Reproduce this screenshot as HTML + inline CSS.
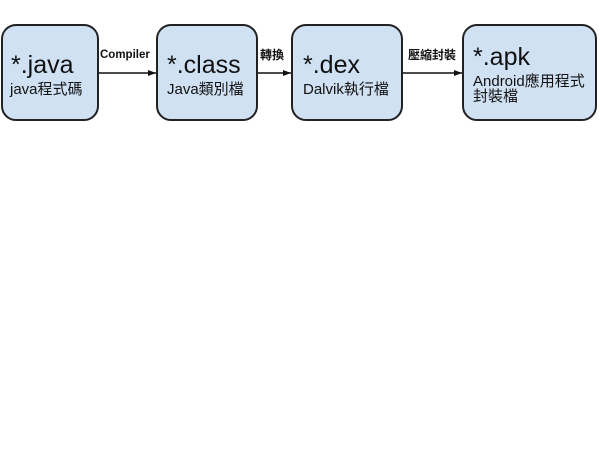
<!DOCTYPE html>
<html>
<head>
<meta charset="utf-8">
<style>
html,body{margin:0;padding:0;background:#fff;}
svg{display:block;}
.big{font-family:"Liberation Sans","Noto Sans CJK TC",sans-serif;font-size:25px;fill:#111;}
.sub{font-family:"Liberation Sans","Noto Sans CJK TC",sans-serif;font-size:15px;fill:#111;}
.lab{font-family:"Liberation Sans","Noto Sans CJK TC",sans-serif;font-size:11.5px;font-weight:bold;fill:#111;}
.labc{font-family:"Liberation Sans","Noto Sans CJK TC",sans-serif;font-size:12px;font-weight:bold;fill:#111;}
</style>
</head>
<body>
<svg width="600" height="450" viewBox="0 0 600 450" xmlns="http://www.w3.org/2000/svg">
  <defs>
    <marker id="ah" markerWidth="8" markerHeight="6" refX="8" refY="3" orient="auto" markerUnits="userSpaceOnUse">
      <path d="M0,0 L8,3 L0,6 Z" fill="#111"/>
    </marker>
  </defs>
  <rect x="0" y="0" width="600" height="450" fill="#fff"/>
  <!-- boxes -->
  <rect x="2" y="25" width="96" height="95" rx="14" ry="14" fill="#cfe1f3" stroke="#222" stroke-width="2"/>
  <rect x="157" y="25" width="100" height="95" rx="14" ry="14" fill="#cfe1f3" stroke="#222" stroke-width="2"/>
  <rect x="292" y="25" width="110" height="95" rx="14" ry="14" fill="#cfe1f3" stroke="#222" stroke-width="2"/>
  <rect x="463" y="25" width="133" height="95" rx="14" ry="14" fill="#cfe1f3" stroke="#222" stroke-width="2"/>

  <!-- arrows -->
  <line x1="99" y1="73" x2="156" y2="73" stroke="#111" stroke-width="1.5" marker-end="url(#ah)"/>
  <line x1="258" y1="73" x2="291" y2="73" stroke="#111" stroke-width="1.5" marker-end="url(#ah)"/>
  <line x1="403" y1="73" x2="462" y2="73" stroke="#111" stroke-width="1.5" marker-end="url(#ah)"/>

  <!-- arrow labels -->
  <text class="lab" x="100" y="58">Compiler</text>
  <text class="labc" x="260" y="59">轉換</text>
  <text class="labc" x="408" y="59">壓縮封裝</text>

  <!-- box texts -->
  <text class="big" x="11" y="73">*.java</text>
  <text class="sub" x="10" y="94">java程式碼</text>

  <text class="big" x="167" y="73">*.class</text>
  <text class="sub" x="167" y="94">Java類別檔</text>

  <text class="big" x="303" y="73">*.dex</text>
  <text class="sub" x="303" y="94">Dalvik執行檔</text>

  <text class="big" x="473" y="65">*.apk</text>
  <text class="sub" x="473" y="86">Android應用程式</text>
  <text class="sub" x="473" y="101">封裝檔</text>
</svg>
</body>
</html>
